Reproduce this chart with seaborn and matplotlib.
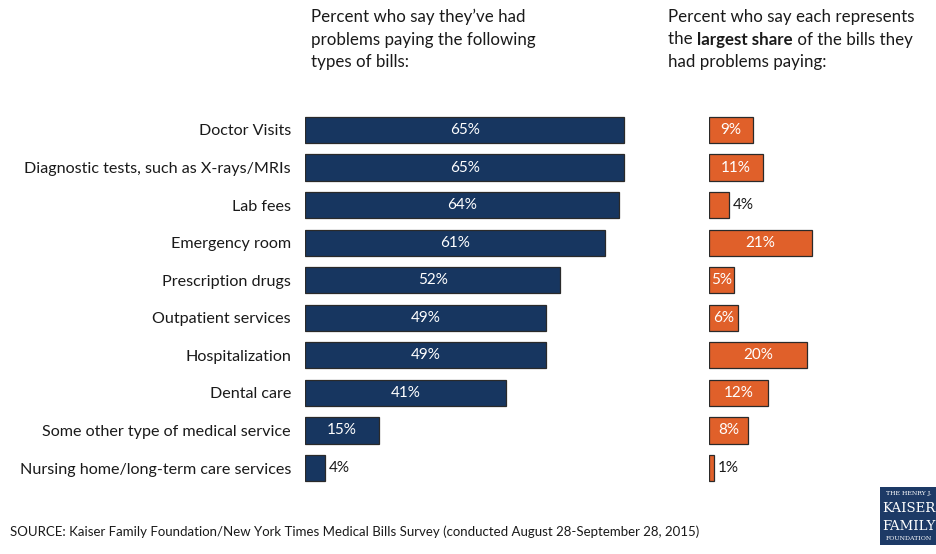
import matplotlib
matplotlib.use("Agg")
import matplotlib.pyplot as plt
import seaborn as sns
import pandas as pd
from matplotlib.patches import Rectangle

categories = [
    "Doctor Visits",
    "Diagnostic tests, such as X-rays/MRIs",
    "Lab fees",
    "Emergency room",
    "Prescription drugs",
    "Outpatient services",
    "Hospitalization",
    "Dental care",
    "Some other type of medical service",
    "Nursing home/long-term care services",
]
had_problems = [65, 65, 64, 61, 52, 49, 49, 41, 15, 4]
largest_share = [9, 11, 4, 21, 5, 6, 20, 12, 8, 1]

left_title = ["Percent who say they\u2019ve had",
              "problems paying the following",
              "types of bills:"]
source = "SOURCE: Kaiser Family Foundation/New York Times Medical Bills Survey (conducted August 28-September 28, 2015)"

NAVY = "#173660"
ORANGE = "#E0602A"
FONT = ["Lato", "DejaVu Sans"]

sns.set_theme(style="white")
plt.rcParams["font.family"] = FONT

df = pd.DataFrame({"cat": categories, "a": had_problems, "b": largest_share})

W, H = 937, 554
fig = plt.figure(figsize=(W / 100, H / 100), dpi=100)
fig.patch.set_facecolor("white")

px = 4.91  # pixels per percent
top_px, bot_px = 111.2, 486.8
ax_b = (H - bot_px) / H
ax_h = (bot_px - top_px) / H

left_x0 = 305
ax1 = fig.add_axes([left_x0 / W, ax_b, 70 * px / W, ax_h])
right_x0 = 709
ax2 = fig.add_axes([right_x0 / W, ax_b, 44 * px / W, ax_h])

def draw(ax, col, color, xmax, thr):
    sns.barplot(data=df, x=col, y="cat", color=color, ax=ax, orient="h",
                width=0.7, edgecolor="#2a2a2a", linewidth=0.9, saturation=1)
    ax.set_xlim(0, xmax)
    ax.set_ylim(len(categories) - 0.5, -0.5)
    ax.set_xlabel("")
    ax.set_ylabel("")
    ax.set_xticks([])
    for s in ax.spines.values():
        s.set_visible(False)
    for i, v in enumerate(df[col]):
        if v >= thr:
            ax.text(v / 2, i, f"{v}%", ha="center", va="center", color="white",
                    fontsize=11, family=FONT)
        else:
            ax.text(v + 0.8, i, f"{v}%", ha="left", va="center",
                    color="#1a1a1a", fontsize=11, family=FONT)

draw(ax1, "a", NAVY, 70, 10)
draw(ax2, "b", ORANGE, 44, 5)

ax1.tick_params(axis="y", length=0, pad=10)
for t in ax1.get_yticklabels():
    t.set_fontsize(11.6)
    t.set_color("#1a1a1a")
ax2.set_yticks([])

# Headers
HFS = 12.2
y1 = 1 - 17 / H
lh = 22.5 / H
for k, line in enumerate(left_title):
    fig.text(311 / W, y1 - k * lh, line, ha="left", va="center", fontsize=HFS,
             color="#1a1a1a")
fig.text(668 / W, y1, "Percent who say each represents", ha="left", va="center",
         fontsize=HFS, color="#1a1a1a")
t_a = fig.text(668 / W, y1 - lh, "the ", ha="left", va="center", fontsize=HFS, color="#1a1a1a")
fig.canvas.draw()
r = fig.canvas.get_renderer()
bb = t_a.get_window_extent(r)
t_b = fig.text(bb.x1 / W, y1 - lh, "largest share", ha="left", va="center", fontsize=HFS,
               color="#1a1a1a", fontweight="bold")
bb2 = t_b.get_window_extent(r)
fig.text(bb2.x1 / W, y1 - lh, " of the bills they", ha="left", va="center", fontsize=HFS,
         color="#1a1a1a")
fig.text(668 / W, y1 - 2 * lh, "had problems paying:", ha="left", va="center",
         fontsize=HFS, color="#1a1a1a")

# Source
fig.text(10 / W, 1 - 532 / H, source, ha="left", va="center", fontsize=9.5,
         color="#1a1a1a")

# Logo
fig.add_artist(Rectangle((880 / W, 1 - 545 / H), 57 / W, 58 / H,
                         transform=fig.transFigure, facecolor="#1d3a66",
                         edgecolor="none"))
cx = 908.5 / W
fig.text(cx, 1 - 494 / H, "THE HENRY J.", ha="center", va="center", fontsize=4.5,
         color="white", family="DejaVu Serif")
fig.text(cx, 1 - 509 / H, "KAISER", ha="center", va="center", fontsize=9.5,
         color="white", family="DejaVu Serif")
fig.text(cx, 1 - 526 / H, "FAMILY", ha="center", va="center", fontsize=9.5,
         color="white", family="DejaVu Serif")
fig.text(cx, 1 - 539 / H, "FOUNDATION", ha="center", va="center", fontsize=4.5,
         color="white", family="DejaVu Serif")

fig.savefig("out.png", dpi=100)
